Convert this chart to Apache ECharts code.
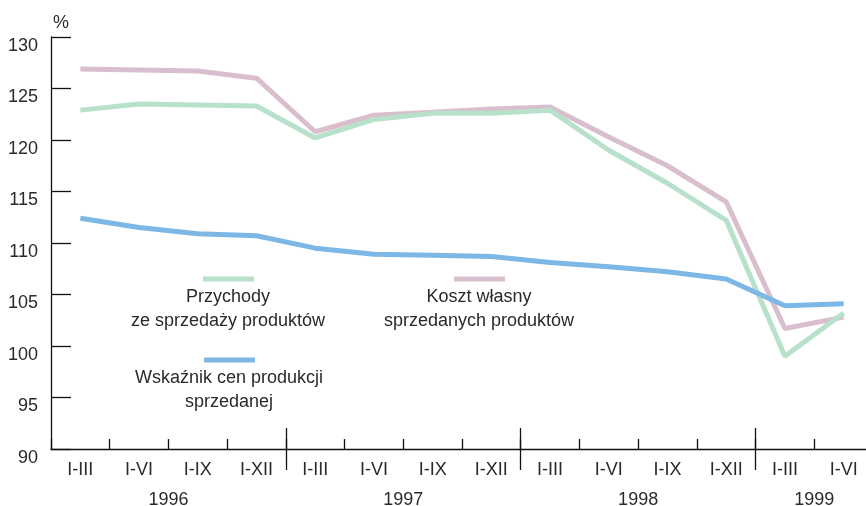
<!DOCTYPE html>
<html>
<head>
<meta charset="utf-8">
<style>
  html, body { margin: 0; padding: 0; background: #fff; }
  #chart { width: 866px; height: 506px; }
</style>
<script src="https://cdn.jsdelivr.net/npm/echarts@6/dist/echarts.min.js"></script>
</head>
<body>
<div id="chart"></div>
<script>
// Quarterly cumulative periods, grouped by year
const categories = [
  'I-III', 'I-VI', 'I-IX', 'I-XII',
  'I-III', 'I-VI', 'I-IX', 'I-XII',
  'I-III', 'I-VI', 'I-IX', 'I-XII',
  'I-III', 'I-VI'
];
const years = ['1996', '1997', '1998', '1999'];
const periodsPerYear = [4, 4, 4, 2];
const yTicks = [90, 95, 100, 105, 110, 115, 120, 125, 130];

// Index values, %
const przychody = [122.9, 123.5, 123.4, 123.3, 120.2, 122.0, 122.6, 122.6, 122.9, 119.0, 115.8, 112.2, 99.0, 103.2];
const kosztWlasny = [126.9, 126.8, 126.7, 126.0, 120.8, 122.4, 122.7, 123.0, 123.2, 120.3, 117.5, 114.0, 101.7, 102.8];
const wskaznikCen = [112.4, 111.5, 110.9, 110.7, 109.5, 108.9, 108.8, 108.7, 108.1, 107.7, 107.2, 106.5, 103.9, 104.1];

const COLORS = { green: '#b7e1cb', pink: '#d9bfcd', blue: '#7cb7e5' };
const FONT = 'Liberation Sans, Arial, sans-serif';
const TEXT = '#2a2a2a';
const FS = 18;

// year boundaries and centres on a 0..N value scale
const yearBounds = [];
const yearCentres = [];
let acc = 0;
periodsPerYear.forEach((n, i) => {
  yearCentres.push(acc + n / 2);
  acc += n;
  if (i < periodsPerYear.length - 1) yearBounds.push(acc);
});

const chart = echarts.init(document.getElementById('chart'), null, { renderer: 'canvas' });

function legendEntry(x, y, color, lines) {
  return [
    { type: 'rect', shape: { x: x - 25, y: y - 2.5, width: 51, height: 5 }, style: { fill: color }, silent: true },
    {
      type: 'text', x: x, y: y + 6,
      style: { text: lines.join('\n'), fill: TEXT, font: FS + 'px ' + FONT, align: 'center', verticalAlign: 'top', lineHeight: 24 },
      silent: true
    }
  ];
}

chart.setOption({
  animation: false,
  backgroundColor: '#fff',
  grid: { left: 51, right: -7, top: 37, bottom: 57, containLabel: false, outerBoundsMode: 'none' },
  xAxis: [
    {
      type: 'category',
      data: categories,
      boundaryGap: true,
      axisLine: { show: true, lineStyle: { color: '#111', width: 1.3 } },
      axisTick: { show: true, inside: true, length: 10, interval: 0, lineStyle: { color: '#111', width: 1.3 } },
      axisLabel: { interval: 0, margin: 12, color: TEXT, fontSize: FS, fontFamily: FONT },
      splitLine: { show: false }
    },
    {
      type: 'value',
      min: 0,
      max: categories.length,
      position: 'bottom',
      offset: 21,
      axisLine: { show: false },
      axisTick: { show: true, inside: true, length: 42, customValues: yearBounds, lineStyle: { color: '#111', width: 1.3 } },
      axisLabel: {
        show: true, margin: 21, color: TEXT, fontSize: FS, fontFamily: FONT,
        customValues: yearCentres,
        formatter: (v) => years[yearCentres.indexOf(v)] || ''
      },
      splitLine: { show: false }
    }
  ],
  yAxis: {
    type: 'value',
    min: yTicks[0],
    max: yTicks[yTicks.length - 1],
    interval: 5,
    name: '%',
    nameLocation: 'end',
    nameGap: 5,
    nameTextStyle: { color: TEXT, fontSize: FS, fontFamily: FONT, align: 'left', padding: [0, 0, 0, 2] },
    axisLine: { show: true, lineStyle: { color: '#111', width: 1.3 } },
    axisTick: { show: true, inside: true, length: 20, lineStyle: { color: '#111', width: 1.3 } },
    axisLabel: { margin: 13, color: TEXT, fontSize: FS, fontFamily: FONT, verticalAlign: 'top' },
    splitLine: { show: false }
  },
  series: [
    {
      name: 'Koszt własny sprzedanych produktów',
      type: 'line', data: kosztWlasny, xAxisIndex: 0,
      showSymbol: false, symbol: 'none',
      lineStyle: { color: COLORS.pink, width: 5 }
    },
    {
      name: 'Przychody ze sprzedaży produktów',
      type: 'line', data: przychody, xAxisIndex: 0,
      showSymbol: false, symbol: 'none',
      lineStyle: { color: COLORS.green, width: 5 }
    },
    {
      name: 'Wskaźnik cen produkcji sprzedanej',
      type: 'line', data: wskaznikCen, xAxisIndex: 0,
      showSymbol: false, symbol: 'none',
      lineStyle: { color: COLORS.blue, width: 5 }
    }
  ],
  graphic: [
    ...legendEntry(228, 279, COLORS.green, ['Przychody', 'ze sprzedaży produktów']),
    ...legendEntry(479, 279, COLORS.pink, ['Koszt własny', 'sprzedanych produktów']),
    ...legendEntry(229, 360, COLORS.blue, ['Wskaźnik cen produkcji', 'sprzedanej'])
  ]
});
</script>
</body>
</html>
